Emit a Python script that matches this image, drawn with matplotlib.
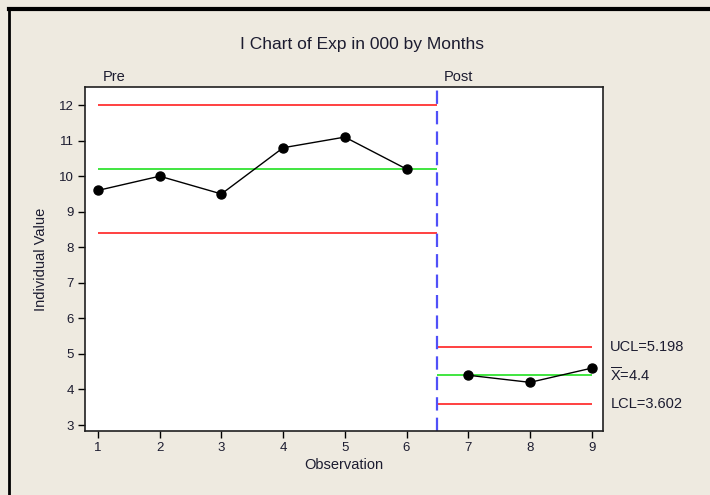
import matplotlib
matplotlib.use("Agg")
import matplotlib.pyplot as plt
from matplotlib.lines import Line2D

plt.rcParams['font.family'] = ['Liberation Sans', 'DejaVu Sans']

title = "I Chart of Exp in 000 by Months"
obs_pre = [1, 2, 3, 4, 5, 6]
val_pre = [9.6, 10.0, 9.5, 10.8, 11.1, 10.2]
obs_post = [7, 8, 9]
val_post = [4.4, 4.2, 4.6]
pre_limits = {"ucl": 12.009, "mean": 10.2, "lcl": 8.391}
post_limits = {"ucl": 5.198, "mean": 4.4, "lcl": 3.602}
stage_names = ["Pre", "Post"]
stage_split = 6.5
xticks = list(range(1, 10))
yticks = list(range(3, 13))

bg = '#EEEAE0'
txt = '#1c1c30'

fig = plt.figure(figsize=(7.1, 4.95), dpi=100, facecolor=bg)
ax = fig.add_axes([0.1201, 0.1299, 0.7296, 0.6937])
ax.set_facecolor('white')

# frame lines of figure (top and left)
fig.add_artist(Line2D([8.5/710, 1], [1-8.5/495, 1-8.5/495], transform=fig.transFigure, color='black', lw=3))
fig.add_artist(Line2D([8.5/710, 8.5/710], [0, 1-8.5/495], transform=fig.transFigure, color='black', lw=2))

red = '#FF2020'
green = '#20E020'
# pre limits
ax.hlines([pre_limits["ucl"], pre_limits["lcl"]], obs_pre[0], stage_split, color=red, lw=1.2)
ax.hlines(pre_limits["mean"], obs_pre[0], stage_split, color=green, lw=1.2)
# post limits
ax.hlines([post_limits["ucl"], post_limits["lcl"]], stage_split, obs_post[-1], color=red, lw=1.2)
ax.hlines(post_limits["mean"], stage_split, obs_post[-1], color=green, lw=1.2)

ax.axvline(stage_split, color='#5050F8', lw=1.6, ls=(0, (6, 3.2)))

ax.plot(obs_pre, val_pre, color='black', lw=1, marker='o', ms=6.5)
ax.plot(obs_post, val_post, color='black', lw=1, marker='o', ms=6.5)

ax.set_xlim(0.794, 9.188)
ax.set_ylim(2.84, 12.5)
ax.set_xticks(xticks)
ax.set_yticks(yticks)
ax.tick_params(direction='out', length=5, width=1, colors='black', labelcolor=txt, labelsize=9.5, pad=3)
for s in ax.spines.values():
    s.set_linewidth(1.2)
    s.set_color('#202020')

ax.set_xlabel("Observation", fontsize=10.5, color=txt, labelpad=3)
ax.set_ylabel("Individual Value", fontsize=10.5, color=txt, labelpad=8)
fig.text(362/710, 1-44/495, title, ha='center', va='center', fontsize=12.5, color=txt)

ax.text(obs_pre[0] + 0.08, 1.01, stage_names[0], transform=ax.get_xaxis_transform(), ha='left', va='bottom', fontsize=10.5, color=txt)
ax.text(stage_split + 0.1, 1.01, stage_names[1], transform=ax.get_xaxis_transform(), ha='left', va='bottom', fontsize=10.5, color=txt)

for yv, label in [(post_limits["ucl"], "UCL=5.198"), (post_limits["mean"], r"$\mathregular{\overline{X}}$=4.4"), (post_limits["lcl"], "LCL=3.602")]:
    ax.annotate(label, xy=(1.0, yv), xycoords=('axes fraction', 'data'), xytext=(7, 0), textcoords='offset pixels',
                ha='left', va='center', fontsize=10.5, color=txt, annotation_clip=False)

fig.savefig('out.png', dpi=100, facecolor=bg)
